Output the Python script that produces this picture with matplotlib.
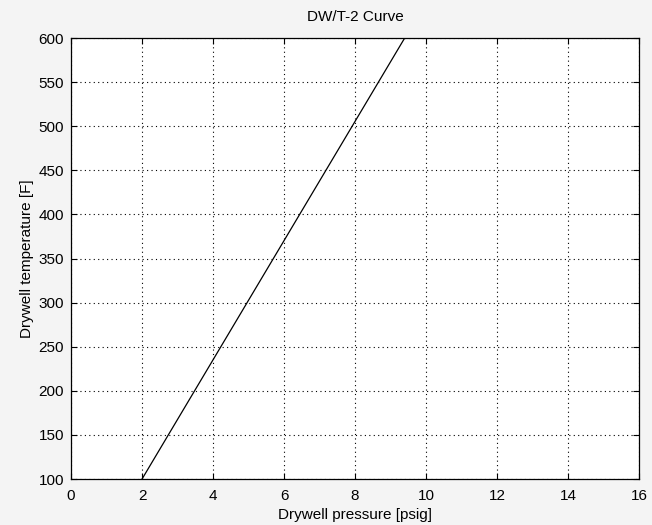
import matplotlib
matplotlib.use("Agg")
import matplotlib.pyplot as plt

pressure = [2.0, 9.4]
temperature = [100, 600]
x_ticks = [0, 2, 4, 6, 8, 10, 12, 14, 16]
y_ticks = [100, 150, 200, 250, 300, 350, 400, 450, 500, 550, 600]

plt.rcParams["font.family"] = ["Liberation Sans", "DejaVu Sans"]

fig = plt.figure(figsize=(6.52, 5.25), dpi=100, facecolor="#f4f4f4")
ax = fig.add_axes([0.109, 0.0876, 0.871, 0.84])
ax.plot(pressure, temperature, color="black", linewidth=0.9)

ax.set_xlim(0, 16)
ax.set_ylim(100, 600)
ax.set_xticks(x_ticks)
ax.set_yticks(y_ticks)
ax.grid(True, color="black", linestyle=(0, (1, 3)), linewidth=0.8)
ax.tick_params(direction="in", top=True, right=True, labelsize=11, length=4)
ax.tick_params(axis="x", pad=7)
ax.tick_params(axis="y", pad=5)
for s in ax.spines.values():
    s.set_linewidth(0.9)

ax.set_xlabel("Drywell pressure [psig]", fontsize=11, labelpad=4)
ax.set_ylabel("Drywell temperature [F]", fontsize=11, labelpad=3)
ax.set_title("DW/T-2 Curve", fontsize=11, pad=12)

fig.savefig("out.png", dpi=100, facecolor=fig.get_facecolor())
plt.close(fig)
